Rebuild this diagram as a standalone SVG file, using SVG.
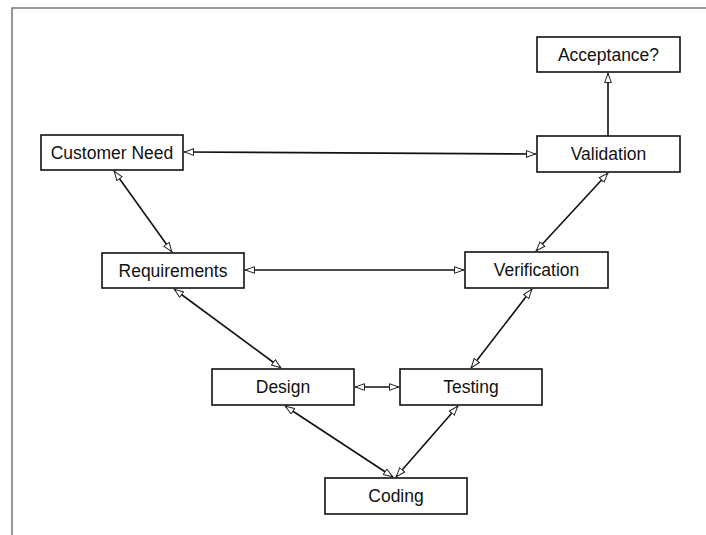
<svg xmlns="http://www.w3.org/2000/svg" width="706" height="535" viewBox="0 0 706 535">
<style>
.box{fill:#fff;stroke:#111;stroke-width:1.6}
.lbl{font-family:"Liberation Sans",Arial,sans-serif;font-size:17.5px;fill:#111;text-anchor:middle;dominant-baseline:central}
.con{stroke:#111;stroke-width:1.6;fill:none}
</style>
<defs>
<marker id="ah" viewBox="0 0 10 8" refX="10" refY="4" markerWidth="10" markerHeight="8" markerUnits="userSpaceOnUse" orient="auto-start-reverse">
<path d="M0.5,0.7 L9.5,4 L0.5,7.3 Z" fill="#fff" stroke="#222" stroke-width="1"/>
</marker>
</defs>
<rect width="706" height="535" fill="#fff"/>
<path d="M12,535 V8 H706" fill="none" stroke="#777" stroke-width="1.5"/>
<g id="connectors">
<line class="con" x1="184" y1="152" x2="536" y2="154" marker-start="url(#ah)" marker-end="url(#ah)"/>
<line class="con" x1="114" y1="171" x2="172" y2="252" marker-start="url(#ah)" marker-end="url(#ah)"/>
<line class="con" x1="608" y1="173" x2="536" y2="251" marker-start="url(#ah)" marker-end="url(#ah)"/>
<line class="con" x1="245" y1="270" x2="464" y2="270" marker-start="url(#ah)" marker-end="url(#ah)"/>
<line class="con" x1="174" y1="289" x2="281" y2="368" marker-start="url(#ah)" marker-end="url(#ah)"/>
<line class="con" x1="532" y1="289" x2="471" y2="368" marker-start="url(#ah)" marker-end="url(#ah)"/>
<line class="con" x1="355" y1="387" x2="399" y2="387" marker-start="url(#ah)" marker-end="url(#ah)"/>
<line class="con" x1="285" y1="406" x2="393" y2="477" marker-start="url(#ah)" marker-end="url(#ah)"/>
<line class="con" x1="458" y1="406" x2="396" y2="477" marker-start="url(#ah)" marker-end="url(#ah)"/>
<line class="con" x1="608" y1="136" x2="608" y2="73" marker-end="url(#ah)"/>
</g>
<g id="acceptance"><rect class="box" x="537" y="37" width="143" height="35"/><text class="lbl" x="608.5" y="55">Acceptance?</text></g>
<g id="customer-need"><rect class="box" x="41" y="135" width="142" height="35"/><text class="lbl" x="112" y="153">Customer Need</text></g>
<g id="validation"><rect class="box" x="537" y="136" width="143" height="36"/><text class="lbl" x="608.5" y="154">Validation</text></g>
<g id="requirements"><rect class="box" x="102" y="253" width="142" height="35"/><text class="lbl" x="173" y="271">Requirements</text></g>
<g id="verification"><rect class="box" x="465" y="252" width="143" height="36"/><text class="lbl" x="536.5" y="270">Verification</text></g>
<g id="design"><rect class="box" x="212" y="369" width="142" height="36"/><text class="lbl" x="283" y="387">Design</text></g>
<g id="testing"><rect class="box" x="400" y="369" width="142" height="36"/><text class="lbl" x="471" y="387">Testing</text></g>
<g id="coding"><rect class="box" x="325" y="478" width="142" height="36"/><text class="lbl" x="396" y="496">Coding</text></g>
</svg>
